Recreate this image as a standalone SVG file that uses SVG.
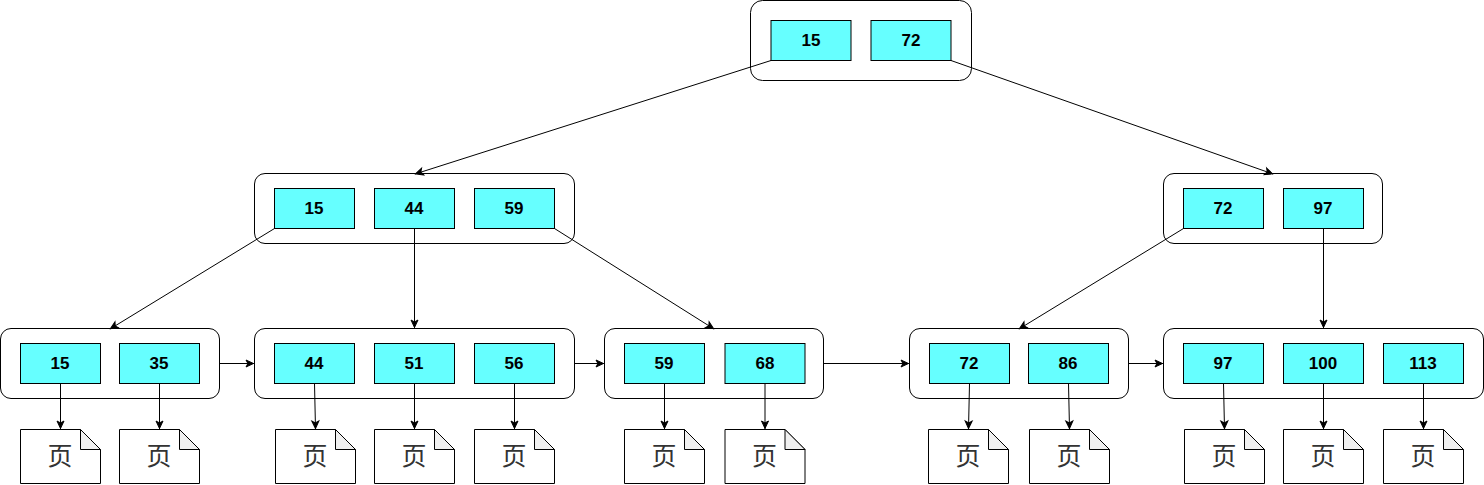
<svg xmlns="http://www.w3.org/2000/svg" width="1484" height="485" viewBox="0 0 1484 485">
<style>
.o{fill:#fff;stroke:#000;stroke-width:1}
.c{fill:#66ffff;stroke:#000;stroke-width:1}
.t{font:bold 17px "Liberation Sans",Arial,sans-serif;fill:#000;text-anchor:middle}
.p{fill:#fff;stroke:#000;stroke-width:1}
.f{fill:#f0f0f0;stroke:#000;stroke-width:1}
.g{font:25px "Noto Sans CJK SC","Noto Sans CJK JP",sans-serif;fill:#333;text-anchor:middle}
.l{fill:none;stroke:#000;stroke-width:1;marker-end:url(#a)}
</style>
<defs>
<marker id="a" markerUnits="userSpaceOnUse" markerWidth="12" markerHeight="10" refX="10" refY="5" orient="auto"><path d="M2 1.5L9.5 5L2 8.5L3.9 5Z" fill="#000" stroke="#000" stroke-width="1"/></marker>
<symbol id="page" overflow="visible"><path class="p" d="M0 0H60L80 20V54H0Z"/><path class="f" d="M60 0V20H80Z"/><text class="g" x="39.5" y="35">页</text></symbol>
</defs>
<g id="n-root"><rect class="o" x="750.5" y="0.5" width="221" height="80" rx="12"/></g>
<g id="n-l"><rect class="o" x="254.5" y="173.5" width="320" height="70" rx="10.5"/></g>
<g id="n-r"><rect class="o" x="1163.5" y="173.5" width="219" height="70" rx="10.5"/></g>
<g id="n-a"><rect class="o" x="0.5" y="328.5" width="219" height="70" rx="10.5"/></g>
<g id="n-b"><rect class="o" x="254.5" y="328.5" width="320" height="70" rx="10.5"/></g>
<g id="n-c"><rect class="o" x="604.5" y="328.5" width="219" height="70" rx="10.5"/></g>
<g id="n-d"><rect class="o" x="909.5" y="328.5" width="219" height="70" rx="10.5"/></g>
<g id="n-e"><rect class="o" x="1163.5" y="328.5" width="320" height="70" rx="10.5"/></g>
<g id="connectors">
<path class="l" d="M771 60.5L415 174"/>
<path class="l" d="M951 60.5L1273 174"/>
<path class="l" d="M274.5 228.5L110 329"/>
<path class="l" d="M414.5 228.5V328"/>
<path class="l" d="M554.5 228.5L714 329"/>
<path class="l" d="M1183.5 228.5L1019 329"/>
<path class="l" d="M1323.5 228.5V328"/>
<path class="l" d="M219.5 363.5H254"/>
<path class="l" d="M574.5 363.5H604"/>
<path class="l" d="M823.5 363.5H909"/>
<path class="l" d="M1128.5 363.5H1163"/>
<path class="l" d="M60.5 383.5V429"/>
<path class="l" d="M159.5 383.5V429"/>
<path class="l" d="M314.5 383.5L315.5 429"/>
<path class="l" d="M414.5 383.5V429"/>
<path class="l" d="M514.5 383.5V429"/>
<path class="l" d="M664.5 383.5V429"/>
<path class="l" d="M765 383.5V429"/>
<path class="l" d="M969.5 383.5L968.5 429"/>
<path class="l" d="M1068.5 383.5L1069.5 429"/>
<path class="l" d="M1223.5 383.5L1224.5 429"/>
<path class="l" d="M1323.5 383.5V429"/>
<path class="l" d="M1423.5 383.5V429"/>
</g>
<g id="k-root-15"><rect class="c" x="771" y="20.5" width="80" height="40"/><text class="t" x="811" y="46">15</text></g>
<g id="k-root-72"><rect class="c" x="871" y="20.5" width="80" height="40"/><text class="t" x="911" y="46">72</text></g>
<g id="k-l-15"><rect class="c" x="274.5" y="188.5" width="80" height="40"/><text class="t" x="314" y="214">15</text></g>
<g id="k-l-44"><rect class="c" x="374.5" y="188.5" width="80" height="40"/><text class="t" x="414" y="214">44</text></g>
<g id="k-l-59"><rect class="c" x="474.5" y="188.5" width="80" height="40"/><text class="t" x="514" y="214">59</text></g>
<g id="k-r-72"><rect class="c" x="1183.5" y="188.5" width="80" height="40"/><text class="t" x="1223" y="214">72</text></g>
<g id="k-r-97"><rect class="c" x="1283.5" y="188.5" width="80" height="40"/><text class="t" x="1323" y="214">97</text></g>
<g id="k-a-15"><rect class="c" x="20.5" y="343.5" width="80" height="40"/><text class="t" x="60" y="369">15</text></g>
<g id="k-a-35"><rect class="c" x="119.5" y="343.5" width="80" height="40"/><text class="t" x="159" y="369">35</text></g>
<g id="k-b-44"><rect class="c" x="274.5" y="343.5" width="80" height="40"/><text class="t" x="314" y="369">44</text></g>
<g id="k-b-51"><rect class="c" x="374.5" y="343.5" width="80" height="40"/><text class="t" x="414" y="369">51</text></g>
<g id="k-b-56"><rect class="c" x="474.5" y="343.5" width="80" height="40"/><text class="t" x="514" y="369">56</text></g>
<g id="k-c-59"><rect class="c" x="624.5" y="343.5" width="80" height="40"/><text class="t" x="664" y="369">59</text></g>
<g id="k-c-68"><rect class="c" x="725" y="343.5" width="80" height="40"/><text class="t" x="765" y="369">68</text></g>
<g id="k-d-72"><rect class="c" x="929.5" y="343.5" width="80" height="40"/><text class="t" x="969" y="369">72</text></g>
<g id="k-d-86"><rect class="c" x="1028.5" y="343.5" width="80" height="40"/><text class="t" x="1068" y="369">86</text></g>
<g id="k-e-97"><rect class="c" x="1183.5" y="343.5" width="80" height="40"/><text class="t" x="1223" y="369">97</text></g>
<g id="k-e-100"><rect class="c" x="1283.5" y="343.5" width="80" height="40"/><text class="t" x="1323" y="369">100</text></g>
<g id="k-e-113"><rect class="c" x="1383.5" y="343.5" width="80" height="40"/><text class="t" x="1423" y="369">113</text></g>
<g id="p1"><use href="#page" x="20.5" y="429.5"/></g>
<g id="p2"><use href="#page" x="119.5" y="429.5"/></g>
<g id="p3"><use href="#page" x="275.5" y="429.5"/></g>
<g id="p4"><use href="#page" x="374.5" y="429.5"/></g>
<g id="p5"><use href="#page" x="474.5" y="429.5"/></g>
<g id="p6"><use href="#page" x="624.5" y="429.5"/></g>
<g id="p7"><use href="#page" x="725" y="429.5"/></g>
<g id="p8"><use href="#page" x="928.5" y="429.5"/></g>
<g id="p9"><use href="#page" x="1029.5" y="429.5"/></g>
<g id="p10"><use href="#page" x="1184.5" y="429.5"/></g>
<g id="p11"><use href="#page" x="1283.5" y="429.5"/></g>
<g id="p12"><use href="#page" x="1383.5" y="429.5"/></g>
</svg>
